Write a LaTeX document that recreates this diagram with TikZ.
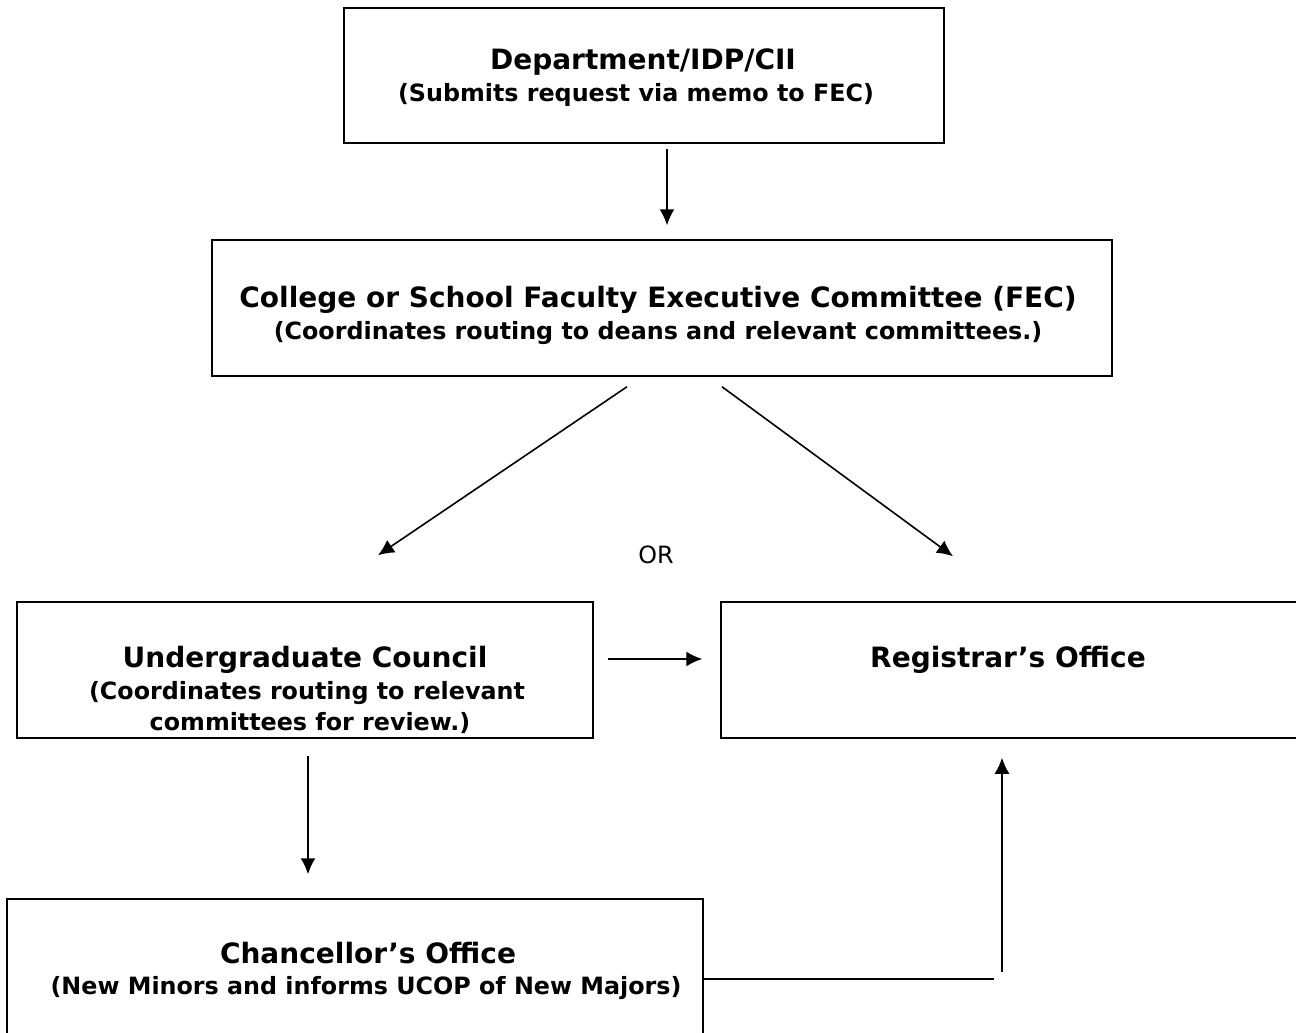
\documentclass[tikz,border=0pt]{standalone}
\usepackage{fontspec}
\setmainfont{DejaVu Sans}
\usetikzlibrary{arrows.meta}

\tikzset{
  stage/.style={draw,rectangle,inner sep=0pt,line width=1.5pt},
  ttl/.style={font=\bfseries\fontsize{28}{34}\selectfont,inner sep=0pt,anchor=base},
  sub/.style={font=\bfseries\fontsize{23.8}{28}\selectfont,inner sep=0pt,anchor=base},
  flow/.style={line width=1.6pt,-{Latex[length=16pt,width=15pt]}}
}

\begin{document}
\begin{tikzpicture}[x=1pt,y=-1pt]
   \useasboundingbox (0,0) rectangle (1296,1033);

   % boxes
   \node[stage,minimum width=600pt,minimum height=135pt] (dept) at (644,75.5) {};
   \node[stage,minimum width=900pt,minimum height=136pt] (fec) at (662,308) {};
   \node[stage,minimum width=576pt,minimum height=136pt] (ugc) at (305,670) {};
   \node[stage,minimum width=578pt,minimum height=136pt] (reg) at (1010,670) {};
   \node[stage,minimum width=696pt,minimum height=140pt] (chan) at (355,969) {};

   % texts
   \node[ttl] (deptT) at (643,70) {Department/IDP/CII};
   \node[sub] (deptS) at (636,102) {(Submits request via memo to FEC)};
   \node[ttl] (fecT) at (658,307) {College or School Faculty Executive Committee (FEC)};
   \node[sub] (fecS) at (658,339) {(Coordinates routing to deans and relevant committees.)};
   \node[ttl] (ugcT) at (305,667) {Undergraduate Council};
   \node[sub] (ugcS) at (307,699) {(Coordinates routing to relevant};
   \node[sub] (ugcS2) at (310,730) {committees for review.)};
   \node[ttl] (regT) at (1008,667) {Registrar’s Office};
   \node[ttl] (chanT) at (368,963) {Chancellor’s Office};
   \node[sub] (chanS) at (366,994) {(New Minors and informs UCOP of New Majors)};
   \node[font=\fontsize{23.8}{28}\selectfont,inner sep=0pt] (or) at (656,555) {OR};

   \coordinate (bend) at (1002,979);

   \draw[flow] ([xshift=23pt,yshift=-5pt]dept.south) -- ([xshift=5pt,yshift=14pt]fec.north);
   \draw[flow] ([xshift=-35pt,yshift=-10pt]fec.south) -- ([xshift=73pt,yshift=46pt]ugc.north);
   \draw[flow] ([xshift=60pt,yshift=-10pt]fec.south) -- ([xshift=-57pt,yshift=45pt]reg.north);
   \draw[flow] ([xshift=14pt,yshift=11pt]ugc.east) -- ([xshift=-18pt,yshift=11pt]reg.west);
   \draw[flow] ([xshift=3pt,yshift=-17pt]ugc.south) -- ([xshift=-47pt,yshift=24pt]chan.north);
   \draw[line width=2.3pt] ([yshift=-10pt]chan.east) -- ([xshift=-8pt]bend);
   \draw[flow] ([yshift=7pt]bend) -- ([xshift=-8pt,yshift=-19pt]reg.south);
\end{tikzpicture}
\end{document}
